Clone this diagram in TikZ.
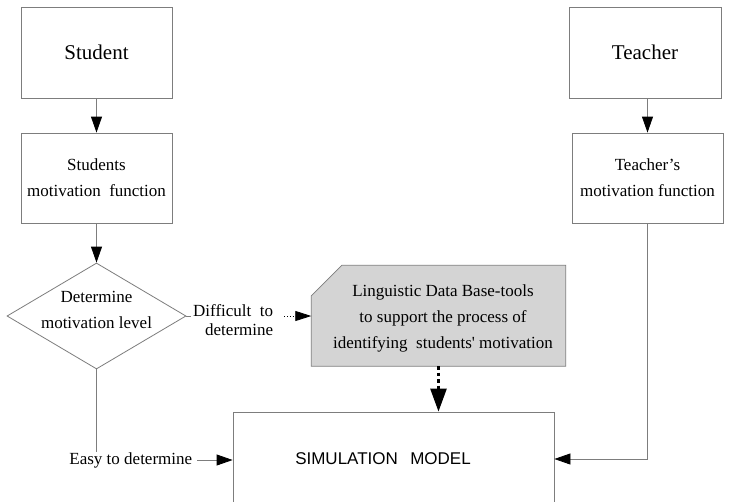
\documentclass[tikz,border=0pt]{standalone}
\usepackage{fontspec}
\setmainfont{Liberation Serif}
\newfontfamily\arialfont{Liberation Sans}
\usetikzlibrary{arrows.meta,shapes.geometric,calc}
\definecolor{edge}{RGB}{125,125,125}
\definecolor{dbfill}{RGB}{212,212,212}
\begin{document}
\begin{tikzpicture}[x=1pt,y=-1pt,
  box/.style={draw=edge, line width=0.8pt, rectangle, inner sep=0pt, align=center},
  big/.style={font=\fontsize{21}{25}\selectfont},
  small/.style={font=\fontsize{17}{26}\selectfont},
  link/.style={draw=edge, line width=0.8pt},
  tip/.style={-{Triangle[length=16pt,width=11pt,color=black]}},
]
\useasboundingbox (0,0) rectangle (731,501);
\clip (0,0) rectangle (731,501);
\fill[white] (0,0) rectangle (731,501);

% student side
\node[box,big,minimum width=151pt,minimum height=91pt] (st) at (96.5,52.5) {Student};
\node[box,small,minimum width=151pt,minimum height=90pt] (sm) at (96.5,178) {Students\\motivation\ \ function};
\node[draw=edge, line width=0.8pt, diamond, minimum width=179pt, minimum height=106pt, inner sep=0pt] (dm) at (96.5,316) {};
\node[small, align=center] (dmt) at (96.5,310) {Determine\\motivation level};

% teacher side
\node[box,big,minimum width=152pt,minimum height=91pt] (te) at (645,52.5) {Teacher};
\node[box,small,minimum width=151pt,minimum height=90pt] (tm) at (647.5,178) {Teacher’s\\motivation function};

% linguistic data base (chamfered grey box)
\node[minimum width=254pt, minimum height=100.5pt, inner sep=0pt] (db) at (438.5,315.75) {};
\filldraw[fill=dbfill, draw=edge, line width=0.8pt]
  ($(db.north west)+(0,30.5)$) -- ($(db.north west)+(30.5,0)$) -- (db.north east)
  -- (db.south east) -- (db.south west) -- cycle;
\node[small, align=center] (dbt) at (443,318) {Linguistic Data Base-tools\\to support the process of\\identifying\ \ students\textquotesingle\ motivation};

% simulation model
\node[box, minimum width=321pt, minimum height=94pt] (sim) at (393.5,459) {};
\node[font=\arialfont\fontsize{17}{20}\selectfont] (simt) at (383,459) {SIMULATION\hspace{0.45em} MODEL};

% branch labels
\node[font=\fontsize{17}{19}\selectfont, align=right, anchor=west, inner sep=2pt] (diff) at (191,320.5) {Difficult\ \ to\\determine};
\node[small, inner sep=0pt] (easy) at (130.8,460) {Easy to determine};

% connectors
\draw[link,tip] (st) -- (sm);
\draw[link,tip] (sm) -- (dm);
\draw[link,tip] (te.south -| tm.north) -- (tm.north);
\draw[link] (dm.east) -- (diff.west |- dm.east);
\draw[line width=0.8pt, black, dotted, shorten <=9pt, -{Triangle[length=16pt,width=10pt]}] (diff.east |- dm.east) -- (dm.east -| db.west);
\draw[link] (dm.south) -- (dm.south |- easy.north);
\draw[link,tip,shorten <=5pt] (easy.east) -- (easy.east -| sim.west);
\draw[line width=2.6pt, black, dash pattern=on 3.5pt off 3pt, -{Triangle[length=23pt,width=16pt]}] (db.south) -- (db.south |- sim.north);
\draw[link,tip] (tm.south) |- (sim.east);
\end{tikzpicture}
\end{document}
